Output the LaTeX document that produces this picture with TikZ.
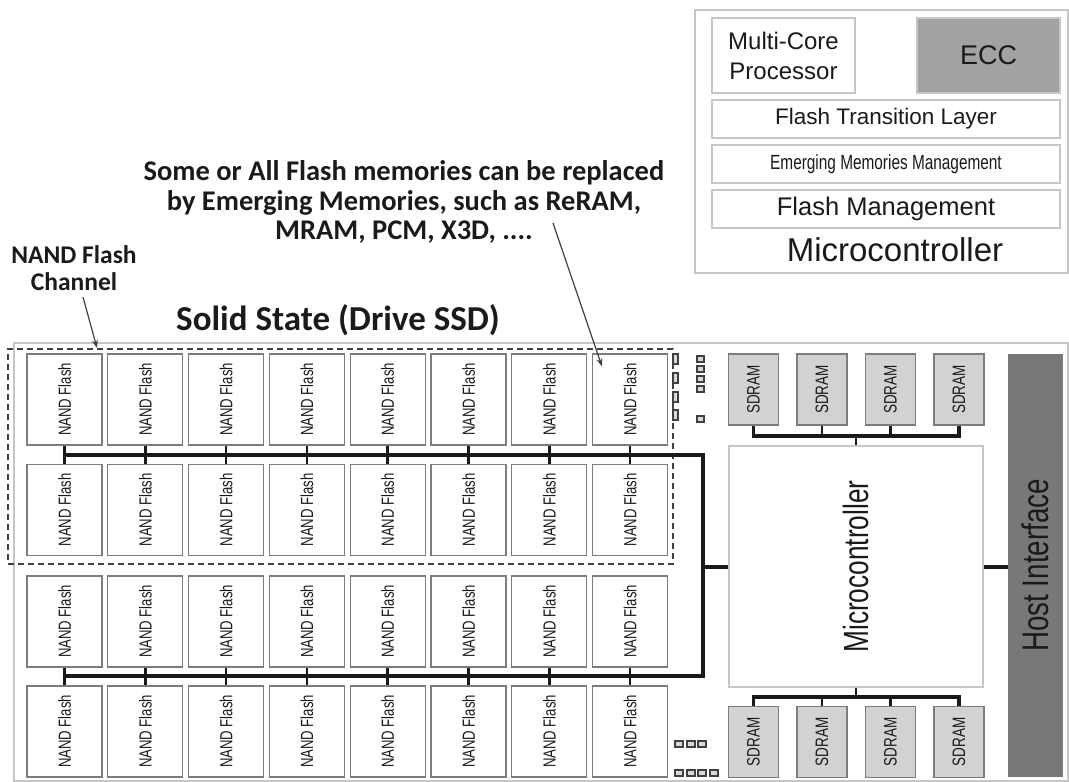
\documentclass[tikz,border=0pt]{standalone}
\usepackage{fontspec}
\usepackage{graphicx}
\setmainfont{Liberation Sans}
\newfontfamily\calib{Carlito}
\newfontfamily\narrowsf[FakeStretch=0.75]{Liberation Sans}
\usetikzlibrary{arrows.meta, positioning, calc}
\definecolor{boxgray}{HTML}{7C7C7C}
\definecolor{ramgray}{HTML}{D2D2D2}
\definecolor{eccgray}{HTML}{A2A2A2}
\definecolor{hostgray}{HTML}{787878}
\definecolor{framegray}{HTML}{C6C6C6}
\definecolor{inkgray}{HTML}{1A1A1A}

\begin{document}
\begin{tikzpicture}[x=1pt, y=-1pt, every node/.style={text=inkgray},
    nand/.style={draw=boxgray, line width=1.3pt, fill=white, minimum width=75pt, minimum height=91pt,
        inner sep=0pt, font=\narrowsf\fontsize{17.5}{17.5}\selectfont},
    sdram/.style={draw=boxgray, line width=1.3pt, fill=ramgray, minimum width=50pt, minimum height=71pt,
        inner sep=0pt, font=\narrowsf\fontsize{18}{18}\selectfont},
    layer/.style={draw=framegray, line width=1.2pt, fill=white, minimum width=348pt, minimum height=38pt, inner sep=0pt},
    bus/.style={line width=4pt, black!90},
    tick/.style={line width=2.6pt, black!90},
    ptr/.style={-{Stealth[length=8pt, width=6pt]}, line width=1.2pt, black!75},
    dotbox/.style={draw=black!75, line width=1.4pt, fill=black!15}]
    \useasboundingbox (0,0) rectangle (1069,782);
    % Microcontroller detail
    \node[draw=framegray, line width=1.2pt, minimum width=373pt, minimum height=263pt] (panel) at (881.5,141.5) {};
    \node[draw=framegray, line width=1.2pt, minimum width=143pt, minimum height=75pt, align=center,
        font=\fontsize{24}{30}\selectfont] (mcp) at (783.5,55.5) {Multi-Core\\Processor};
    \node[draw=framegray, line width=1.2pt, fill=eccgray, minimum width=143pt, minimum height=75pt,
        font=\fontsize{27}{27}\selectfont] (ecc) at (988.5,55.5) {ECC};
    \node[layer, font=\fontsize{22.5}{22.5}\selectfont] (ftl) at (886,119) {Flash Transition Layer};
    \node[layer, font=\narrowsf\fontsize{20.5}{20.5}\selectfont] (emm) at (886,164) {Emerging Memories Management};
    \node[layer, font=\fontsize{25.5}{25.5}\selectfont] (fm) at (886,209) {Flash Management};
    \node[font=\fontsize{33}{33}\selectfont] (paneltitle) at (895,250) {Microcontroller};
    % Annotations
    \node[align=center, font=\calib\bfseries\fontsize{28.5}{29.5}\selectfont] (note) at (404,202)
        {Some or All Flash memories can be replaced\\by Emerging Memories, such as ReRAM,\\MRAM, PCM, X3D, ....};
    \node[align=center, font=\calib\bfseries\fontsize{25.5}{27}\selectfont] (chanlbl) at (74,268) {NAND Flash\\Channel};
    \node[font=\calib\bfseries\fontsize{35}{35}\selectfont] (ssd) at (338,320) {Solid State (Drive SSD)};
    % SSD frame
    \draw[framegray, line width=1.2pt] (14,343) rectangle (1068,781);
    % NAND flash array
    \foreach \c in {1,...,8}
        \foreach \r/\yy in {1/399.5, 2/510, 3/621.5, 4/731.5}
            \node[nand] (nf-\r-\c) at ({64.5+80.8*(\c-1)},\yy) {\rotatebox{90}{NAND Flash}};
    \node[draw=black!75, dashed, line width=1.3pt, dash pattern=on 6pt off 4pt, minimum width=665pt,
        minimum height=215pt] (chan) at (340.5,456.5) {};
    % Channels
    \coordinate (busA) at (703,455);
    \coordinate (busB) at (703,676);
    \node[draw=framegray, line width=1.2pt, fill=white, minimum width=254pt, minimum height=241pt] (mc) at (856,566.5)
        {\rotatebox{90}{\narrowsf\fontsize{35}{35}\selectfont Microcontroller}};
    \draw[bus] (nf-1-1.south |- busA) -- (busA) -- (busB) -- (nf-3-1.south |- busB);
    \foreach \c in {1,...,8} {
        \draw[tick] (nf-1-\c.south) -- (nf-2-\c.north);
        \draw[tick] (nf-3-\c.south) -- (nf-4-\c.north);
    }
    \draw[bus] (busA |- mc.west) -- (mc.west);
    % SDRAM
    \foreach \c/\xx in {1/753.5, 2/822, 3/890.5, 4/959} {
        \node[sdram] (rt-\c) at (\xx,389.5) {\rotatebox{90}{SDRAM}};
        \node[sdram] (rb-\c) at (\xx,742) {\rotatebox{90}{SDRAM}};
    }
    \coordinate (ramtop) at (856,436);
    \coordinate (rambot) at (856,697);
    \draw[tick, line width=3.2pt] (rt-1.south) |- (ramtop) -| (rt-4.south);
    \draw[tick, line width=3.2pt] (rb-1.north) |- (rambot) -| (rb-4.north);
    \foreach \c in {2,3} {
        \draw[tick] (rt-\c.south) -- (rt-\c.south |- ramtop);
        \draw[tick] (rb-\c.north) -- (rb-\c.north |- rambot);
    }
    \draw[tick] (ramtop) -- (mc.north);
    \draw[tick] (rambot) -- (mc.south);
    % Host
    \node[fill=hostgray, minimum width=55pt, minimum height=423pt, inner sep=0pt] (host) at (1035.5,565.5)
        {\rotatebox{90}{\narrowsf\fontsize{37}{37}\selectfont Host Interface}};
    \draw[bus] (mc.east) -- (mc.east -| host.west);
    % Pointers
    \coordinate (chantip) at (97,348);
    \draw[ptr] ($(chanlbl.south)+(9,3)$) -- (chantip);
    \coordinate (notetail) at (553,223);
    \draw[ptr] (notetail) -- ($(nf-1-8.north west)+(10,13)$);
    % Small marks
    \foreach \yy in {354,373,392,410}
        \draw[dotbox] (673,\yy) rectangle +(5,10);
    \foreach \yy in {356,366,376,386,416}
        \draw[dotbox] (697,\yy) rectangle +(7,6);
    \foreach \xx in {675,687,698}
        \draw[dotbox] (\xx,741) rectangle +(8,6);
    \foreach \xx in {675,687,698,710}
        \draw[dotbox] (\xx,770) rectangle +(8,6);
\end{tikzpicture}
\end{document}
